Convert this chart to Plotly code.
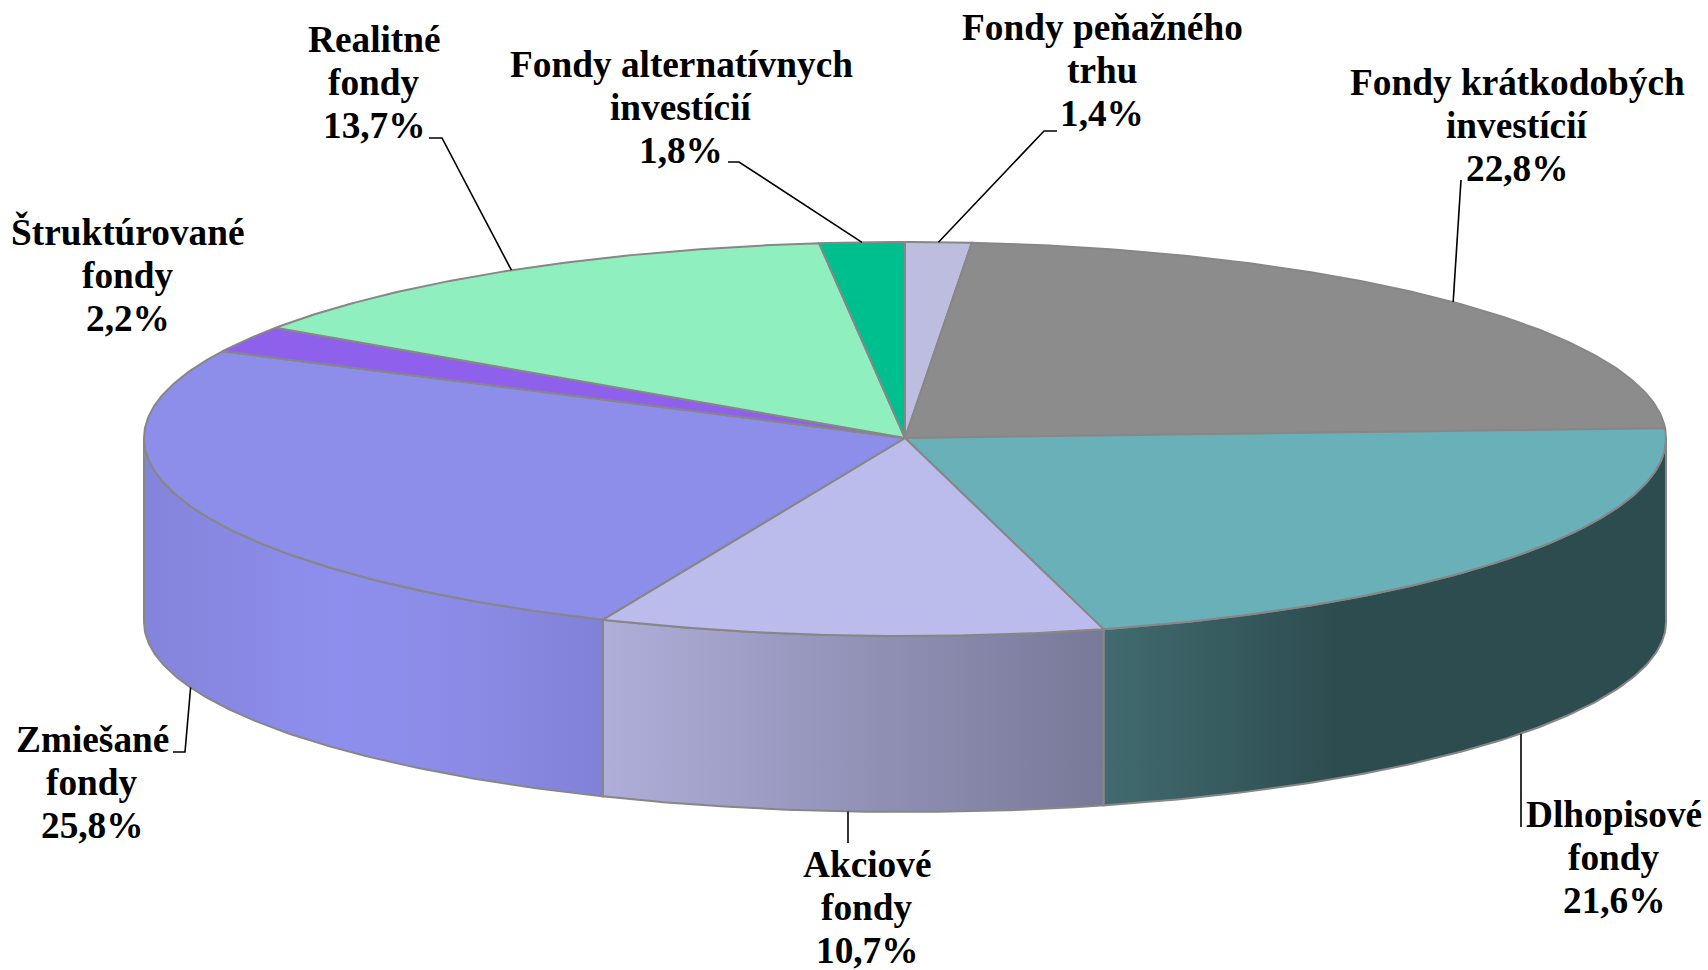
import numpy as np
import plotly.graph_objects as go

# ---- data ----
names = [
    ["Fondy peňažného", "trhu"],
    ["Fondy krátkodobých", "investícií"],
    ["Dlhopisové", "fondy"],
    ["Akciové", "fondy"],
    ["Zmiešané", "fondy"],
    ["Štruktúrované", "fondy"],
    ["Realitné", "fondy"],
    ["Fondy alternatívnych", "investícií"],
]
values = [1.4, 22.8, 21.6, 10.7, 25.8, 2.2, 13.7, 1.8]
top_colors = ["#bdbddf", "#8c8c8c", "#6ab0b8", "#bbbbec", "#8d8dea", "#8f60ec", "#8fefbe", "#00bf8f"]
side_scales = {
    2: [[0, "#416b70"], [0.42, "#2d4c4f"], [1, "#2d4c4f"]],
    3: [[0, "#aeaed9"], [1, "#787898"]],
    4: [[0, "#8484db"], [0.42, "#8e8eee"], [0.72, "#8b8be6"], [1, "#8181d8"]],
}

# ---- layout of the drawing (pixels) ----
W, H = 1708, 970
CX, CY, RX = 905, 438, 761
RY_BACK, RY_FRONT = 196, 198   # top face, slightly larger towards the viewer
DEPTH, RY_BOTTOM = 184, 190    # lower rim of the wall
EDGE = "#878787"
FONT = dict(family="Liberation Serif", size=37.3, color="black")
PITCH = 43
label_pos = [(1102, 27), (1517, 82), (1614, 814), (867, 864), (92, 739), (128, 232), (374, 39), (681, 64)]
# elbow points of the leader lines, from the label towards the pie
elbows = [
    [(1057, 131), (1044, 131)],
    [(1461, 180)],
    [(1521, 827)],
    [(848, 843)],
    [(173, 752), (185, 752)],
    [],
    [(429, 138), (442, 138)],
    [(728, 162), (739, 162)],
]


def top_pt(deg):
    a = np.radians(deg)
    c = np.cos(a)
    return CX + RX * np.sin(a), CY - np.where(c >= 0, RY_BACK, RY_FRONT) * c


def bottom_pt(deg):
    a = np.radians(deg)
    return CX + RX * np.sin(a), CY + DEPTH - RY_BOTTOM * np.cos(a)


total = sum(values)
cum = np.concatenate([[0], np.cumsum(values)]) / total * 360

fig = go.Figure()

# side walls (lower half of the ellipse only)
for i, v in enumerate(values):
    a0, a1 = max(cum[i], 90), min(cum[i + 1], 270)
    if a1 <= a0:
        continue
    t = np.linspace(a0, a1, 120)
    xt, yt = top_pt(t)
    xb, yb = bottom_pt(t[::-1])
    x = np.concatenate([xt, xb, xt[:1]])
    y = np.concatenate([yt, yb, yt[:1]])
    fig.add_trace(go.Scatter(
        x=x, y=y, mode="lines", fill="toself",
        fillgradient=dict(type="horizontal", colorscale=side_scales[i]),
        line=dict(color=EDGE, width=2), hoverinfo="skip", showlegend=False,
    ))

# top face wedges
for i, v in enumerate(values):
    t = np.linspace(cum[i], cum[i + 1], max(6, int(v * 8)))
    xt, yt = top_pt(t)
    x = np.concatenate([[CX], xt, [CX]])
    y = np.concatenate([[CY], yt, [CY]])
    fig.add_trace(go.Scatter(
        x=x, y=y, mode="lines", fill="toself", fillcolor=top_colors[i],
        line=dict(color=EDGE, width=2), name=" ".join(names[i]),
        text=f"{v}%", hoverinfo="name+text", showlegend=False,
    ))

# leader lines and labels
for i, v in enumerate(values):
    mid = (cum[i] + cum[i + 1]) / 2
    on_side = 90 < mid < 270
    if elbows[i]:
        ex, ey = bottom_pt(mid) if on_side else top_pt(mid)
        if on_side and len(elbows[i]) == 1:
            ex = elbows[i][0][0]  # straight-down leader
        xs = [p[0] for p in elbows[i]] + [float(ex)]
        ys = [p[1] for p in elbows[i]] + [float(ey)]
        fig.add_trace(go.Scatter(
            x=xs, y=ys, mode="lines", line=dict(color="black", width=1.6),
            hoverinfo="skip", showlegend=False,
        ))
    lines = names[i] + [f"{v:.1f}".replace(".", ",") + "%"]
    lx, ly = label_pos[i]
    for k, text in enumerate(lines):
        fig.add_annotation(
            x=lx, y=ly + k * PITCH, text=f"<b>{text}</b>", showarrow=False,
            xanchor="center", yanchor="middle", font=FONT,
        )

fig.update_layout(
    width=W, height=H, margin=dict(l=0, r=0, t=0, b=0),
    paper_bgcolor="white", plot_bgcolor="white",
    xaxis=dict(range=[0, W], visible=False, domain=[0, 1], fixedrange=True),
    yaxis=dict(range=[H, 0], visible=False, domain=[0, 1], fixedrange=True),
)
fig.write_html(
    "out.html",
    config=dict(displayModeBar=False),
    post_script="document.body.style.margin='0';document.body.style.overflow='hidden';",
)
